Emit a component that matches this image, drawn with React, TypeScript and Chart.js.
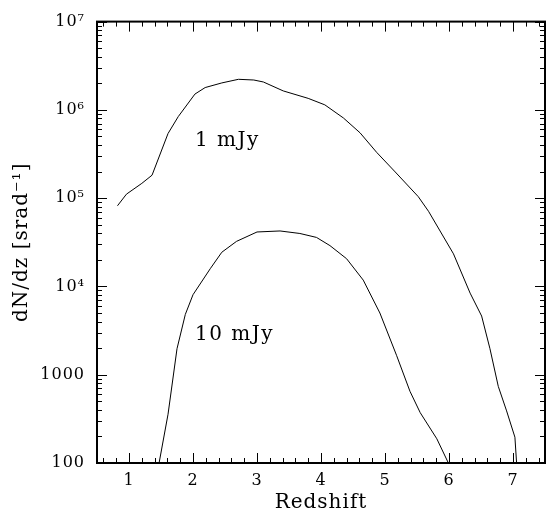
import React, { useEffect, useRef } from 'react';
import { Chart, registerables } from 'chart.js';

Chart.register(...registerables);

// 1 mJy curve
const z1mJy = [0.82, 0.96, 1.2, 1.36, 1.61, 1.77, 2.03, 2.19, 2.45, 2.71, 2.95, 3.1, 3.41, 3.8, 4.06, 4.35, 4.61, 4.87, 5.16, 5.52, 5.68, 6.07, 6.33, 6.51, 6.64, 6.77, 6.9, 7.03, 7.06];
const n1mJy = [8.2e4, 1.11e5, 1.47e5, 1.82e5, 5.4e5, 8.4e5, 1.51e6, 1.79e6, 2.02e6, 2.22e6, 2.18e6, 2.07e6, 1.64e6, 1.35e6, 1.14e6, 8.1e5, 5.5e5, 3.3e5, 1.98e5, 1.04e5, 7.1e4, 2.34e4, 8400, 4620, 1970, 738, 389, 196, 90];

// 10 mJy curve
const z10mJy = [1.47, 1.61, 1.75, 1.88, 2.0, 2.27, 2.45, 2.68, 3.0, 3.36, 3.67, 3.93, 4.14, 4.4, 4.66, 4.92, 5.18, 5.39, 5.55, 5.81, 5.99];
const n10mJy = [100, 357, 1970, 4820, 8060, 1.59e4, 2.44e4, 3.24e4, 4.14e4, 4.25e4, 3.98e4, 3.59e4, 2.9e4, 2.06e4, 1.18e4, 5000, 1660, 649, 372, 188, 100];

const xTickValues = [1, 2, 3, 4, 5, 6, 7];
const xTickLabels = ['1', '2', '3', '4', '5', '6', '7'];
const yTickValues = [100, 1000, 1e4, 1e5, 1e6, 1e7];
const yTickLabels = ['100', '1000', '10⁴', '10⁵', '10⁶', '10⁷'];

const curveLabels = ['1 mJy', '10 mJy'];
const curveLabelX = [2.03, 2.03];
const curveLabelY = [4.45e5, 2865];

const xTitle = 'Redshift';
const yTitle = 'dN/dz [srad⁻¹]';

const FONT = '"DejaVu Serif", "Liberation Serif", serif';

const frameAndTicks = {
  id: 'frameAndTicks',
  beforeDraw(chart: any) {
    try { chart.ctx.letterSpacing = '1px'; } catch (e) {}
  },
  afterDraw(chart: any) {
    const { ctx, chartArea: a, scales } = chart;
    const x = scales.x;
    const y = scales.y;
    ctx.save();
    ctx.strokeStyle = '#000';
    ctx.lineWidth = 1;
    const MAJ = 10;
    const MIN = 5;
    ctx.beginPath();
    for (let k = 3; k <= 37; k++) {
      const v = k * 0.2;
      const major = Math.abs(v - Math.round(v)) < 1e-6;
      const len = major ? MAJ : MIN;
      const px = Math.round(x.getPixelForValue(v)) + 0.5;
      ctx.moveTo(px, a.bottom);
      ctx.lineTo(px, a.bottom - len);
      ctx.moveTo(px, a.top);
      ctx.lineTo(px, a.top + len);
    }
    for (let d = 2; d <= 7; d++) {
      for (let m = 1; m <= 9; m++) {
        if (d === 7 && m > 1) break;
        const v = m * Math.pow(10, d);
        const len = m === 1 ? MAJ : MIN;
        const py = Math.round(y.getPixelForValue(v)) + 0.5;
        ctx.moveTo(a.left, py);
        ctx.lineTo(a.left + len, py);
        ctx.moveTo(a.right, py);
        ctx.lineTo(a.right - len, py);
      }
    }
    ctx.stroke();
    ctx.lineWidth = 2;
    ctx.strokeRect(a.left, a.top, a.right - a.left, a.bottom - a.top);
    ctx.restore();
    try { ctx.letterSpacing = '0px'; } catch (e) {}
  },
  afterDatasetsDraw(chart: any) {
    const { ctx, scales } = chart;
    ctx.save();
    ctx.fillStyle = '#000';
    ctx.font = `20px ${FONT}`;
    ctx.textAlign = 'left';
    ctx.textBaseline = 'middle';
    try { (ctx as any).letterSpacing = '1.5px'; } catch (e) {}
    curveLabels.forEach((t, i) => {
      ctx.fillText(t, scales.x.getPixelForValue(curveLabelX[i]), scales.y.getPixelForValue(curveLabelY[i]));
    });
    ctx.restore();
  },
};

export default function App() {
  const ref = useRef<HTMLCanvasElement>(null);
  useEffect(() => {
    document.body.style.margin = '0';
    document.body.style.overflow = 'hidden';
    const chart = new Chart(ref.current!, {
      type: 'line',
      data: {
        datasets: [
          {
            label: curveLabels[0],
            data: z1mJy.map((z, i) => ({ x: z, y: n1mJy[i] })),
            borderColor: '#000',
            borderWidth: 1,
            pointRadius: 0,
            tension: 0,
            fill: false,
          },
          {
            label: curveLabels[1],
            data: z10mJy.map((z, i) => ({ x: z, y: n10mJy[i] })),
            borderColor: '#000',
            borderWidth: 1,
            pointRadius: 0,
            tension: 0,
            fill: false,
          },
        ],
      },
      options: {
        animation: false,
        responsive: false,
        layout: { padding: { left: 0, right: 2, top: 14, bottom: 0 } },
        plugins: { legend: { display: false }, tooltip: { enabled: false } },
        scales: {
          x: {
            type: 'linear',
            min: 0.5,
            max: 7.5,
            afterBuildTicks: (s: any) => { s.ticks = xTickValues.map((v) => ({ value: v })); },
            afterFit: (s: any) => { s.height = 50; },
            grid: { display: false, drawTicks: false },
            border: { display: false },
            ticks: {
              autoSkip: false,
              maxRotation: 0,
              padding: 8,
              color: '#000',
              font: { family: FONT, size: 16 },
              callback: (v: any) => { const i = xTickValues.indexOf(Number(v)); return i >= 0 ? xTickLabels[i] : ''; },
            },
            title: { display: true, text: xTitle, color: '#000', font: { family: FONT, size: 20 }, padding: { top: 0, bottom: -2 } },
          },
          y: {
            type: 'logarithmic',
            min: 100,
            max: 1e7,
            afterBuildTicks: (s: any) => { s.ticks = yTickValues.map((v) => ({ value: v })); },
            afterFit: (s: any) => { s.width = 97; },
            grid: { display: false, drawTicks: false },
            border: { display: false },
            ticks: {
              autoSkip: false,
              padding: 12,
              color: '#000',
              font: { family: FONT, size: 16 },
              callback: (v: any) => { const i = yTickValues.indexOf(Number(v)); return i >= 0 ? yTickLabels[i] : ''; },
            },
            title: { display: true, text: yTitle, color: '#000', font: { family: FONT, size: 20 }, padding: { top: 10, bottom: 0 } },
          },
        },
      },
      plugins: [frameAndTicks],
    } as any);
    return () => chart.destroy();
  }, []);
  return (
    <div style={{ width: 547, height: 513 }}>
      <canvas ref={ref} width={547} height={513} />
    </div>
  );
}
